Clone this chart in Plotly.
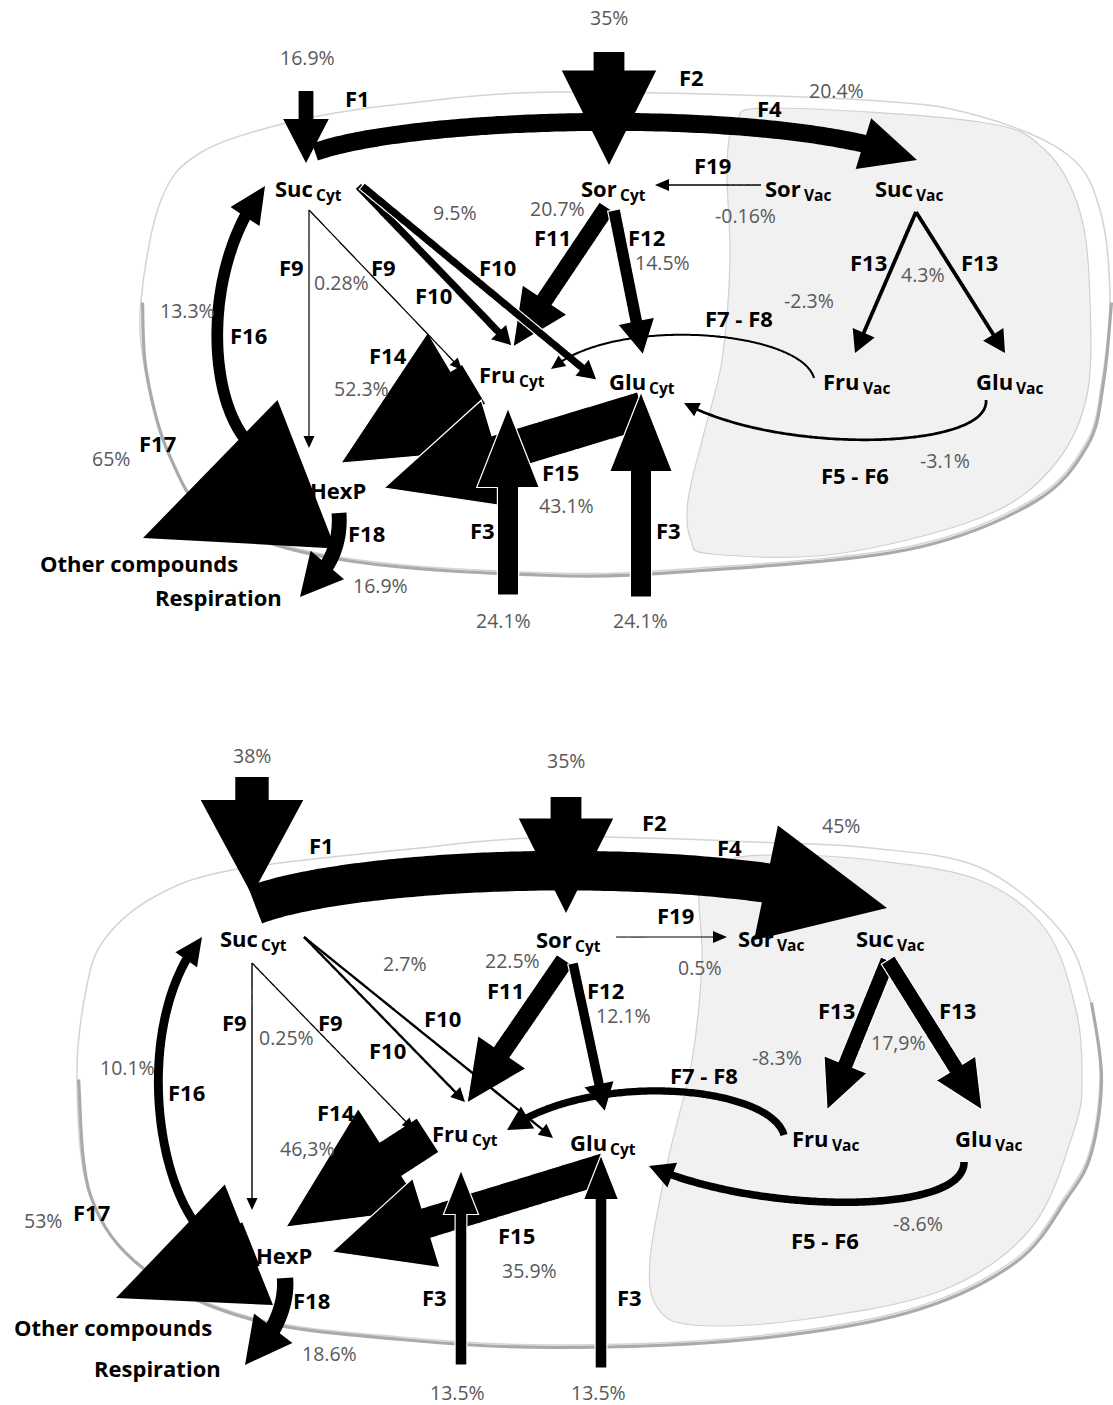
import numpy as np
import plotly.graph_objects as go

W, H = 1113, 1405

# ---------------------------------------------------------------- data
flux_names = ["F1", "F2", "F3", "F4", "F5 - F6", "F7 - F8", "F9", "F10", "F11",
              "F12", "F13", "F14", "F15", "F16", "F17", "F18", "F19"]
# fluxes in % of carbon entering the fruit cell (top and bottom scheme)
flux_top = [16.9, 35, 24.1, 20.4, -3.1, -2.3, 0.28, 9.5, 20.7,
            14.5, 4.3, 52.3, 43.1, 13.3, 65, 16.9, -0.16]
flux_bottom = [38, 35, 13.5, 45, -8.6, -8.3, 0.25, 2.7, 22.5,
               12.1, 17.9, 46.3, 35.9, 10.1, 53, 18.6, 0.5]
# values printed with a decimal comma
comma_top = []
comma_bottom = ["F13", "F14"]

node_names = [("Suc", "Cyt"), ("Sor", "Cyt"), ("Sor", "Vac"), ("Suc", "Vac"),
              ("Fru", "Cyt"), ("Glu", "Cyt"), ("Fru", "Vac"), ("Glu", "Vac"),
              ("HexP", ""), ("Other compounds", ""), ("Respiration", "")]

# ---------------------------------------------------------------- style
SHAFT = 0.88          # px of shaft width per %
MIN_SHAFT = 1.3
HEAD_W, HEAD_L = 2.6, 2.75
PCT_COLOR = "#595959"
FONT = "Open Sans"

# ---------------------------------------------------------------- layout of each scheme
top_layout = dict(
    cell=[(200, 153), (286, 123), (393, 105), (560, 92), (864, 100), (979, 116), (1068, 155),
          (1100, 210), (1110, 300), (1102, 380), (1086, 443), (1032, 500), (907, 547), (700, 568),
          (550, 573), (339, 557), (214, 517), (168, 453), (145, 370), (141, 300), (161, 200)],
    shadow_from=8, shadow_to=19,
    vac=[(727, 165), (736, 122), (772, 108), (980, 122), (1045, 150), (1080, 212), (1090, 300),
         (1086, 400), (1050, 470), (980, 518), (836, 554), (712, 554), (691, 540), (688, 500),
         (704, 433), (722, 360), (730, 260)],
    arrows=[
        ("F16", [(246, 440), (205, 390), (205, 260), (265, 186)], {}),
        ("F17", [(307, 474), (143, 538)], dict(kw=2.45, kl=2.7)),
        ("F14", [(474, 384), (341, 463)], dict(kw=2.6, kl=2.7, edge=True)),
        ("F15", [(643, 410), (384, 488)], dict(edge=True)),
        ("F3", [(508, 595), (508, 408)], dict(kl=3.3, edge=True)),
        ("F3", [(641, 597), (641, 392)], dict(kl=3.3, edge=True)),
        ("F1", [(306, 91), (306, 163)], dict(kw=2.7, kl=2.6)),
        ("F2", [(609, 52), (609, 165)], dict(kw=2.7, kl=2.7)),
        ("F4", [(315, 152), (420, 115), (790, 106), (917, 160)], {}),
        ("F11", [(607, 207), (513, 347)], dict(edge=True)),
        ("F12", [(614, 210), (643, 355)], dict(kl=2.4, edge=True)),
        ("F10", [(358, 186), (512, 346)], dict(kw=2.4, kl=2.1, mw=14, ml=14, edge=True)),
        ("F10", [(362, 186), (597, 380)], dict(kw=2.4, kl=2.1, mw=14, ml=14, edge=True)),
        ("F9", [(309, 210), (309, 448)], dict(mw=11, ml=12)),
        ("F9", [(309, 210), (462, 370)], dict(mw=11, ml=12)),
        ("F13", [(916, 212), (855, 353)], dict(mw=24, ml=22)),
        ("F13", [(916, 212), (1005, 353)], dict(mw=24, ml=22)),
        ("F19", [(655, 185), (761, 185)], dict(mw=12, ml=14)),
        ("F7 - F8", [(551, 369), (615, 315), (800, 330), (814, 378)], dict(kw=3.1, kl=2.9, mw=13, ml=14)),
        ("F5 - F6", [(684, 403), (780, 455), (990, 450), (986, 400)], dict(kw=3.1, kl=2.9, mw=15, ml=15)),
        ("F18", [(339, 513), (341, 545), (330, 570), (300, 597)], dict(kl=2.5)),
    ],
    values={"F1": [(307, 57)], "F2": [(609, 17)], "F3": [(503, 620), (640, 620)], "F4": [(836, 90)],
            "F5 - F6": [(945, 460)], "F7 - F8": [(809, 300)], "F9": [(341, 282)], "F10": [(455, 212)],
            "F11": [(557, 208)], "F12": [(662, 262)], "F13": [(923, 274)], "F14": [(361, 388)],
            "F15": [(566, 505)], "F16": [(187, 310)], "F17": [(111, 458)], "F18": [(380, 585)],
            "F19": [(745, 215)]},
    names={"F1": [(357, 98)], "F2": [(691, 77)], "F3": [(482, 530), (668, 530)], "F4": [(769, 108)],
           "F5 - F6": [(855, 475)], "F7 - F8": [(739, 318)], "F9": [(291, 267), (383, 267)],
           "F10": [(497, 267), (433, 295)], "F11": [(552, 237)], "F12": [(646, 237)],
           "F13": [(868, 262), (979, 262)], "F14": [(388, 355)], "F15": [(560, 472)],
           "F16": [(248, 335)], "F17": [(157, 443)], "F18": [(366, 533)], "F19": [(712, 165)]},
    # subscripted nodes: (x where the subscript starts, y of the main text)
    nodes=[(314, 188), (618, 188), (802, 188), (914, 188), (517, 374), (647, 381), (861, 381),
           (1014, 381), (338, 490), (139, 563), (218, 597)],
)

bottom_layout = dict(
    cell=[(154, 897), (232, 870), (400, 850), (560, 837), (782, 843), (871, 848), (979, 867),
          (1060, 930), (1090, 1000), (1100, 1075), (1090, 1150), (1066, 1195), (1014, 1260),
          (907, 1310), (746, 1337), (550, 1345), (400, 1337), (250, 1317), (143, 1267), (89, 1193),
          (77, 1077), (86, 990), (104, 940)],
    shadow_from=8, shadow_to=20,
    vac=[(700, 885), (728, 860), (782, 855), (871, 860), (979, 880), (1046, 930), (1076, 1010),
         (1082, 1075), (1075, 1127), (1032, 1227), (943, 1290), (800, 1320), (693, 1325),
         (657, 1307), (650, 1260), (668, 1160), (692, 1060), (702, 960)],
    arrows=[
        ("F16", [(195, 1223), (150, 1160), (140, 1010), (202, 937)], {}),
        ("F17", [(251, 1244), (116, 1298)], dict(kw=2.45, kl=2.7)),
        ("F14", [(428, 1135), (286, 1227)], dict(kw=2.6, kl=2.7, edge=True)),
        ("F15", [(606, 1168), (332, 1252)], dict(edge=True)),
        ("F3", [(461, 1365), (461, 1170)], dict(kl=3.3, edge=True)),
        ("F3", [(601, 1368), (601, 1155)], dict(kl=3.3, edge=True)),
        ("F1", [(252, 777), (252, 895)], dict(kw=2.7, kl=2.5)),
        ("F2", [(566, 797), (566, 913)], dict(kw=2.7, kl=2.7)),
        ("F4", [(255, 905), (350, 868), (700, 850), (887, 908)], {}),
        ("F11", [(565, 960), (467, 1103)], dict(edge=True)),
        ("F12", [(573, 963), (605, 1112)], dict(kl=2.4, edge=True)),
        ("F10", [(304, 937), (465, 1102)], dict(mw=14, ml=14)),
        ("F10", [(304, 937), (553, 1138)], dict(mw=14, ml=14)),
        ("F9", [(252, 963), (252, 1210)], dict(mw=11, ml=12)),
        ("F9", [(252, 963), (414, 1130)], dict(mw=11, ml=12)),
        ("F13", [(888, 960), (827, 1110)], dict(edge=True)),
        ("F13", [(888, 960), (982, 1110)], dict(edge=True)),
        ("F19", [(616, 937), (727, 937)], dict(mw=12, ml=14)),
        ("F7 - F8", [(507, 1130), (590, 1070), (770, 1085), (784, 1135)], dict(kw=3.1, kl=2.9, mw=13, ml=14)),
        ("F5 - F6", [(649, 1166), (760, 1215), (965, 1215), (964, 1162)], dict(kw=3.1, kl=2.9, mw=15, ml=15)),
        ("F18", [(285, 1278), (287, 1305), (275, 1335), (245, 1365)], dict(kl=2.5)),
    ],
    values={"F1": [(252, 755)], "F2": [(566, 760)], "F3": [(457, 1392), (598, 1392)], "F4": [(841, 825)],
            "F5 - F6": [(918, 1223)], "F7 - F8": [(777, 1057)], "F9": [(286, 1037)], "F10": [(405, 963)],
            "F11": [(512, 960)], "F12": [(623, 1015)], "F13": [(898, 1042)], "F14": [(307, 1148)],
            "F15": [(529, 1270)], "F16": [(127, 1067)], "F17": [(43, 1220)], "F18": [(329, 1353)],
            "F19": [(700, 967)]},
    names={"F1": [(321, 845)], "F2": [(654, 822)], "F3": [(434, 1297), (629, 1297)], "F4": [(729, 847)],
           "F5 - F6": [(825, 1240)], "F7 - F8": [(704, 1075)], "F9": [(234, 1022), (330, 1022)],
           "F10": [(442, 1018), (387, 1050)], "F11": [(505, 990)], "F12": [(605, 990)],
           "F13": [(836, 1010), (957, 1010)], "F14": [(336, 1112)], "F15": [(516, 1235)],
           "F16": [(186, 1092)], "F17": [(91, 1212)], "F18": [(311, 1300)], "F19": [(675, 915)]},
    nodes=[(259, 938), (573, 939), (775, 938), (895, 938), (470, 1133), (608, 1142), (830, 1138),
           (993, 1138), (284, 1255), (113, 1327), (157, 1368)],
)


# ---------------------------------------------------------------- geometry helpers
def smooth_path(pts, closed=True):
    """Catmull-Rom spline through pts, as an SVG path."""
    n = len(pts)
    d = f"M{pts[0][0]:.1f},{pts[0][1]:.1f}"
    for i in range(n if closed else n - 1):
        p0 = pts[(i - 1) % n] if (closed or i > 0) else pts[i]
        p1 = pts[i]
        p2 = pts[(i + 1) % n]
        p3 = pts[(i + 2) % n] if (closed or i + 2 < n) else pts[i + 1]
        c1 = (p1[0] + (p2[0] - p0[0]) / 6, p1[1] + (p2[1] - p0[1]) / 6)
        c2 = (p2[0] - (p3[0] - p1[0]) / 6, p2[1] - (p3[1] - p1[1]) / 6)
        d += f" C{c1[0]:.1f},{c1[1]:.1f} {c2[0]:.1f},{c2[1]:.1f} {p2[0]:.1f},{p2[1]:.1f}"
    return d + (" Z" if closed else "")


def bezier(ctrl, n=160):
    c = np.asarray(ctrl, float)
    t = np.linspace(0, 1, n)[:, None]
    if len(c) == 2:
        return (1 - t) * c[0] + t * c[1]
    return ((1 - t) ** 3) * c[0] + 3 * t * (1 - t) ** 2 * c[1] + 3 * t ** 2 * (1 - t) * c[2] + t ** 3 * c[3]


def arrow_path(ctrl, value, kw=HEAD_W, kl=HEAD_L, mw=12, ml=12, **_):
    """Filled arrow along a line/cubic curve; widths scale with the flux value."""
    v = abs(value)
    if value < 0:
        ctrl = ctrl[::-1]
    w = max(SHAFT * v, MIN_SHAFT)
    hw = max(kw * v, mw)
    hl = max(kl * v, ml)
    pts = bezier(ctrl)
    seg = np.hypot(*np.diff(pts, axis=0).T)
    cum = np.concatenate([[0], np.cumsum(seg)])
    neck_s = max(cum[-1] - hl, 0.0)
    tip = pts[-1]
    neck = np.array([np.interp(neck_s, cum, pts[:, 0]), np.interp(neck_s, cum, pts[:, 1])])
    d = tip - neck
    d /= np.linalg.norm(d)
    nh = np.array([-d[1], d[0]])
    poly = []
    shaft = pts[cum < neck_s - 0.5]
    if len(shaft) >= 1 and neck_s > 1.5:
        shaft = np.vstack([shaft, neck])
        tan = np.gradient(shaft, axis=0)
        tan /= np.linalg.norm(tan, axis=1)[:, None]
        tan[-1] = d
        nrm = np.column_stack([-tan[:, 1], tan[:, 0]])
        left = shaft + nrm * w / 2
        right = shaft - nrm * w / 2
        poly += list(left)
        poly += [neck + nh * hw / 2, tip, neck - nh * hw / 2]
        poly += list(right[::-1])
    else:
        poly += [neck + nh * hw / 2, tip, neck - nh * hw / 2]
    return "M" + " L".join(f"{p[0]:.1f},{p[1]:.1f}" for p in poly) + " Z"


def fmt_pct(v, comma):
    s = f"{v:g}%"
    return s.replace(".", ",") if comma else s


# ---------------------------------------------------------------- build
shapes, annotations = [], []


def add_text(x, y, text, size, color="black", bold=True, xanchor="center"):
    annotations.append(dict(x=x, y=y, xref="x", yref="y", text=text, showarrow=False,
                            xanchor=xanchor, yanchor="middle", borderpad=0,
                            font=dict(family=FONT, size=size, color=color,
                                      weight="bold" if bold else "normal")))


def draw_scheme(lay, values, comma):
    flux = dict(zip(flux_names, values))
    # cell wall with its shadow and the vacuole
    shapes.append(dict(type="path", xref="x", yref="y", path=smooth_path(lay["cell"]),
                       line=dict(color="#d4d4d4", width=1.5), fillcolor="rgba(0,0,0,0)", layer="below"))
    sh = [(x + 1.5, y + 2.5) for x, y in lay["cell"][lay["shadow_from"]:lay["shadow_to"] + 1]]
    shapes.append(dict(type="path", xref="x", yref="y", path=smooth_path(sh, closed=False),
                       line=dict(color="#aaaaaa", width=3.2), layer="below"))
    shapes.append(dict(type="path", xref="x", yref="y", path=smooth_path(lay["vac"]),
                       line=dict(color="#d0d0d0", width=1.2), fillcolor="#f1f1f1", layer="below"))
    # flux arrows
    for name, ctrl, st in lay["arrows"]:
        edge = st.get("edge", False)
        shapes.append(dict(type="path", xref="x", yref="y",
                           path=arrow_path(ctrl, flux[name], **st), fillcolor="black",
                           line=dict(color="white", width=1.2 if edge else 0)))
    # flux values and names
    for name, pos in lay["values"].items():
        for x, y in pos:
            add_text(x, y, fmt_pct(flux[name], name in comma), 19.5, PCT_COLOR, bold=False)
    for name, pos in lay["names"].items():
        for x, y in pos:
            add_text(x, y, name, 22)
    # metabolite pools (compartment written as a lowered, smaller suffix)
    for (main, sub), (x, y) in zip(node_names, lay["nodes"]):
        if sub:
            add_text(x, y, main, 22, xanchor="right")
            add_text(x + 1, y + 7, sub, 15.5, xanchor="left")
        else:
            add_text(x, y, main, 22)


draw_scheme(top_layout, flux_top, comma_top)
draw_scheme(bottom_layout, flux_bottom, comma_bottom)

fig = go.Figure()
fig.update_layout(
    width=W, height=H, margin=dict(l=0, r=0, t=0, b=0),
    paper_bgcolor="white", plot_bgcolor="white", showlegend=False,
    xaxis=dict(range=[0, W], visible=False, fixedrange=True),
    yaxis=dict(range=[H, 0], visible=False, fixedrange=True),
    shapes=shapes, annotations=annotations,
)
fig.write_html("out.html")
